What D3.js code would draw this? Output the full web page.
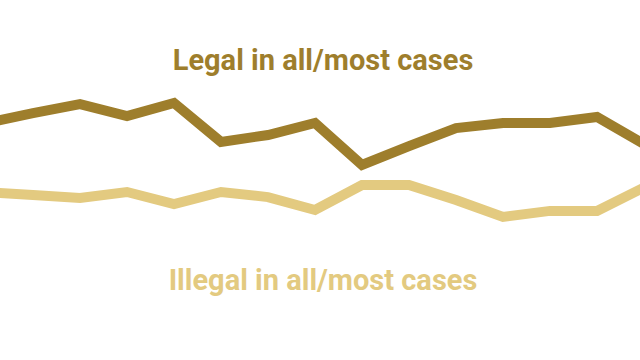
<!DOCTYPE html>
<html>
<head>
<meta charset="utf-8">
<script src="https://cdn.jsdelivr.net/npm/d3@7"></script>
<style>
  html, body { margin: 0; padding: 0; background: #fff; }
  svg { display: block; }
</style>
</head>
<body>
<div id="chart"></div>
<script>
// survey waves, evenly spaced; the outer two run off the edges
const waves = d3.range(15)
const legal = [59, 62.3, 65.3, 61.3, 65.7, 52.7, 55, 59, 45, 51.3, 57.3, 59, 59, 61, 52]
const illegal = [36, 35, 34, 36, 32, 36, 34.3, 30, 38.3, 38.3, 33.3, 27.7, 29.7, 29.7, 37.5]

const labels = ['Legal in all/most cases', 'Illegal in all/most cases']
const colors = ['#9e7e2c', '#e3ca80']

const width = 640
const height = 360

const svg = d3.select('#chart')
  .append('svg')
  .attr('width', width)
  .attr('height', height)

const x = d3.scaleLinear()
  .domain([0, waves.length - 1])
  .range([-14, 644])

const y = d3.scaleLinear()
  .domain([0, 100])
  .range([300, 0])

const line = d3.line()
  .x((d, i) => x(waves[i]))
  .y((d) => y(d))

svg.selectAll('.series')
  .data([legal, illegal])
  .enter()
  .append('path')
  .attr('class', 'series')
  .attr('d', (d) => line(d))
  .attr('fill', 'none')
  .attr('stroke', (d, i) => colors[i])
  .attr('stroke-width', 10)
  .attr('stroke-linejoin', 'miter')

svg.selectAll('.label')
  .data(labels)
  .enter()
  .append('text')
  .attr('class', 'label')
  .attr('x', width / 2 + 3)
  .attr('y', (d, i) => i === 0 ? 70 : 290)
  .attr('text-anchor', 'middle')
  .style('font-family', 'Roboto, sans-serif')
  .style('font-weight', 'bold')
  .style('font-size', '29px')
  .style('fill', (d, i) => colors[i])
  .text((d) => d)
</script>
</body>
</html>
